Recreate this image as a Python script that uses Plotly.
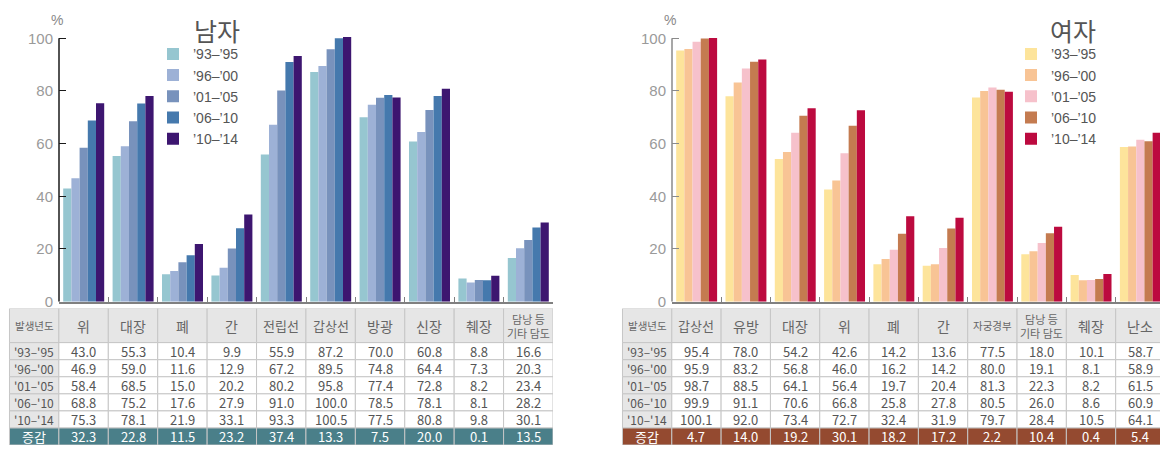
import plotly.graph_objects as go

# ---------------- data ----------------
periods = ["’93–’95", "’96–’00", "’01–’05", "’06–’10", "’10–’14"]
row_labels = ["'93–'95", "'96–'00", "'01–'05", "'06–'10", "'10–'14"]

men_sites = ["위", "대장", "폐", "간", "전립선", "갑상선", "방광", "신장", "췌장", "담낭 등 기타 담도"]
men_93 = [43.0, 55.3, 10.4, 9.9, 55.9, 87.2, 70.0, 60.8, 8.8, 16.6]
men_96 = [46.9, 59.0, 11.6, 12.9, 67.2, 89.5, 74.8, 64.4, 7.3, 20.3]
men_01 = [58.4, 68.5, 15.0, 20.2, 80.2, 95.8, 77.4, 72.8, 8.2, 23.4]
men_06 = [68.8, 75.2, 17.6, 27.9, 91.0, 100.0, 78.5, 78.1, 8.1, 28.2]
men_10 = [75.3, 78.1, 21.9, 33.1, 93.3, 100.5, 77.5, 80.8, 9.8, 30.1]
men_change = [32.3, 22.8, 11.5, 23.2, 37.4, 13.3, 7.5, 20.0, 0.1, 13.5]

women_sites = ["갑상선", "유방", "대장", "위", "폐", "간", "자궁경부", "담낭 등 기타 담도", "췌장", "난소"]
women_93 = [95.4, 78.0, 54.2, 42.6, 14.2, 13.6, 77.5, 18.0, 10.1, 58.7]
women_96 = [95.9, 83.2, 56.8, 46.0, 16.2, 14.2, 80.0, 19.1, 8.1, 58.9]
women_01 = [98.7, 88.5, 64.1, 56.4, 19.7, 20.4, 81.3, 22.3, 8.2, 61.5]
women_06 = [99.9, 91.1, 70.6, 66.8, 25.8, 27.8, 80.5, 26.0, 8.6, 60.9]
women_10 = [100.1, 92.0, 73.4, 72.7, 32.4, 31.9, 79.7, 28.4, 10.5, 64.1]
women_change = [4.7, 14.0, 19.2, 30.1, 18.2, 17.2, 2.2, 10.4, 0.4, 5.4]

men_colors = ["#96c6d0", "#9db1d6", "#7892bc", "#4579ad", "#3d1670"]
women_colors = ["#fde49b", "#f8c495", "#f6c1cb", "#c47b50", "#bc0a3f"]
men_accent = "#4a7f89"
women_accent = "#944a30"

# page is offset by the browser's default 8px body margin
OFF = 8
W, H = 1160, 447
KFONT = "Noto Sans CJK KR"
LFONT = "Liberation Sans"

fig = go.Figure()

men_series = [men_93, men_96, men_01, men_06, men_10]
women_series = [women_93, women_96, women_01, women_06, women_10]

for name, vals, col in zip(periods, men_series, men_colors):
    fig.add_trace(go.Bar(x=men_sites, y=vals, name=name, marker=dict(color=col, line=dict(width=0)),
                         xaxis="x", yaxis="y", legend="legend"))
for name, vals, col in zip(periods, women_series, women_colors):
    fig.add_trace(go.Bar(x=women_sites, y=vals, name=name, marker=dict(color=col, line=dict(width=0)),
                         xaxis="x2", yaxis="y2", legend="legend2"))


def px_x(p):
    return (p - OFF) / W


def px_y(p):
    return 1 - (p - OFF) / H


tickfont = dict(family=LFONT, size=15, color="#9a9a9a")


def xaxis_cfg(x0, x1, anchor):
    return dict(domain=[px_x(x0), px_x(x1)], type="category", range=[-0.5, 9.5], anchor=anchor,
                showline=True, linecolor="#808080", linewidth=1.5, ticks="inside",
                tickson="boundaries", ticklen=5, tickcolor="#808080", tickwidth=1.2,
                showticklabels=False, showgrid=False, zeroline=False, fixedrange=True)


def yaxis_cfg(anchor, tickcolor):
    return dict(domain=[px_y(306), px_y(30.6)], range=[0, 102], anchor=anchor,
                tickvals=[0, 20, 40, 60, 80, 100], ticks="inside", ticklen=7, tickwidth=1.2,
                tickcolor=tickcolor, showline=False, showgrid=False, zeroline=False,
                tickfont=tickfont, ticklabelstandoff=5, fixedrange=True)


shapes = []
annotations = []


def header_font(label):
    if "<br>" in label:
        return dict(family=KFONT, size=11, color="#666666")
    n = len(label)
    if n >= 4:
        return dict(family=KFONT, size=10.5, color="#666666")
    if n == 3:
        return dict(family=KFONT, size=13, color="#666666")
    return dict(family=KFONT, size=14, color="#666666")


def table(xa, ya, sites, series, change, accent):
    cols = ["발생년도"] + [s.replace(" 기타", "<br>기타") for s in sites]
    rows = [(0, 2)] + [(2 + i, 3 + i) for i in range(5)] + [(7, 8)]
    for c, head in enumerate(cols):
        for r, (r0, r1) in enumerate(rows):
            if r == 6:
                fill = accent
            elif r == 0 or c == 0:
                fill = "#e6e6e6"
            else:
                fill = "#ffffff"
            shapes.append(dict(type="rect", xref=xa, yref=ya, x0=c - 0.5, x1=c + 0.5, y0=r0, y1=r1,
                               fillcolor=fill, line=dict(color="#c6c6c6", width=1), layer="below"))
            if r == 0:
                txt = head
                font = header_font(head)
            elif r == 6:
                txt = "증감" if c == 0 else f"{change[c - 1]:.1f}"
                font = dict(family=KFONT, size=13, color="#ffffff")
            else:
                if c == 0:
                    txt = row_labels[r - 1]
                    font = dict(family=KFONT, size=12, color="#555555")
                else:
                    txt = f"{series[r - 1][c - 1]:.1f}"
                    font = dict(family=KFONT, size=13, color="#555555")
            annotations.append(dict(xref=xa, yref=ya, x=c, y=(r0 + r1) / 2, text=txt, showarrow=False,
                                    font=font, xanchor="center", yanchor="middle",
                                    borderpad=0, align="center"))


table("x3", "y3", men_sites, men_series, men_change, men_accent)
table("x4", "y4", women_sites, women_series, women_change, women_accent)

# y axis lines (0..100)
shapes.append(dict(type="line", xref="x domain", yref="y", x0=0, x1=0, y0=0, y1=100,
                   line=dict(color="#1a1a1a", width=1.5)))
shapes.append(dict(type="line", xref="x2 domain", yref="y2", x0=0, x1=0, y0=0, y1=100,
                   line=dict(color="#8a8a8a", width=1.5)))

annotations += [
    dict(xref="paper", yref="paper", x=px_x(57), y=px_y(17), text="%", showarrow=False,
         xanchor="center", yanchor="middle", font=dict(family=LFONT, size=14, color="#888888")),
    dict(xref="paper", yref="paper", x=px_x(670), y=px_y(17), text="%", showarrow=False,
         xanchor="center", yanchor="middle", font=dict(family=LFONT, size=14, color="#888888")),
    dict(xref="paper", yref="paper", x=px_x(217), y=1, text="남자", showarrow=False, borderpad=0,
         xanchor="center", yanchor="top", font=dict(family=KFONT, size=25, color="#555555")),
    dict(xref="paper", yref="paper", x=px_x(1073), y=1, text="여자", showarrow=False, borderpad=0,
         xanchor="center", yanchor="top", font=dict(family=KFONT, size=25, color="#555555")),
]

legend_common = dict(font=dict(family=LFONT, size=14, color="#555555"), bgcolor="rgba(0,0,0,0)",
                     xanchor="left", yanchor="top", borderwidth=0, tracegroupgap=0,
                     itemclick=False, itemdoubleclick=False)

fig.update_layout(
    width=W, height=H,
    margin=dict(l=0, r=0, t=0, b=0),
    paper_bgcolor="white", plot_bgcolor="white",
    barmode="group", bargap=0.17, bargroupgap=0,
    showlegend=True,
    xaxis=xaxis_cfg(59, 553, "y"),
    yaxis=yaxis_cfg("x", "#1a1a1a"),
    xaxis2=xaxis_cfg(672, 1165, "y2"),
    yaxis2=yaxis_cfg("x2", "#8a8a8a"),
    xaxis3=dict(domain=[px_x(8), px_x(553)], range=[-0.53, 10.5], anchor="y3", visible=False, fixedrange=True),
    yaxis3=dict(domain=[px_y(453), px_y(313)], range=[8, 0], anchor="x3", visible=False, fixedrange=True),
    xaxis4=dict(domain=[px_x(621), px_x(1165)], range=[-0.53, 10.5], anchor="y4", visible=False, fixedrange=True),
    yaxis4=dict(domain=[px_y(453), px_y(313)], range=[8, 0], anchor="x4", visible=False, fixedrange=True),
    legend=dict(x=px_x(153), y=px_y(36), **legend_common),
    legend2=dict(x=px_x(1011), y=px_y(36), **legend_common),
    shapes=shapes,
    annotations=annotations,
)

fig.write_html("out.html")
